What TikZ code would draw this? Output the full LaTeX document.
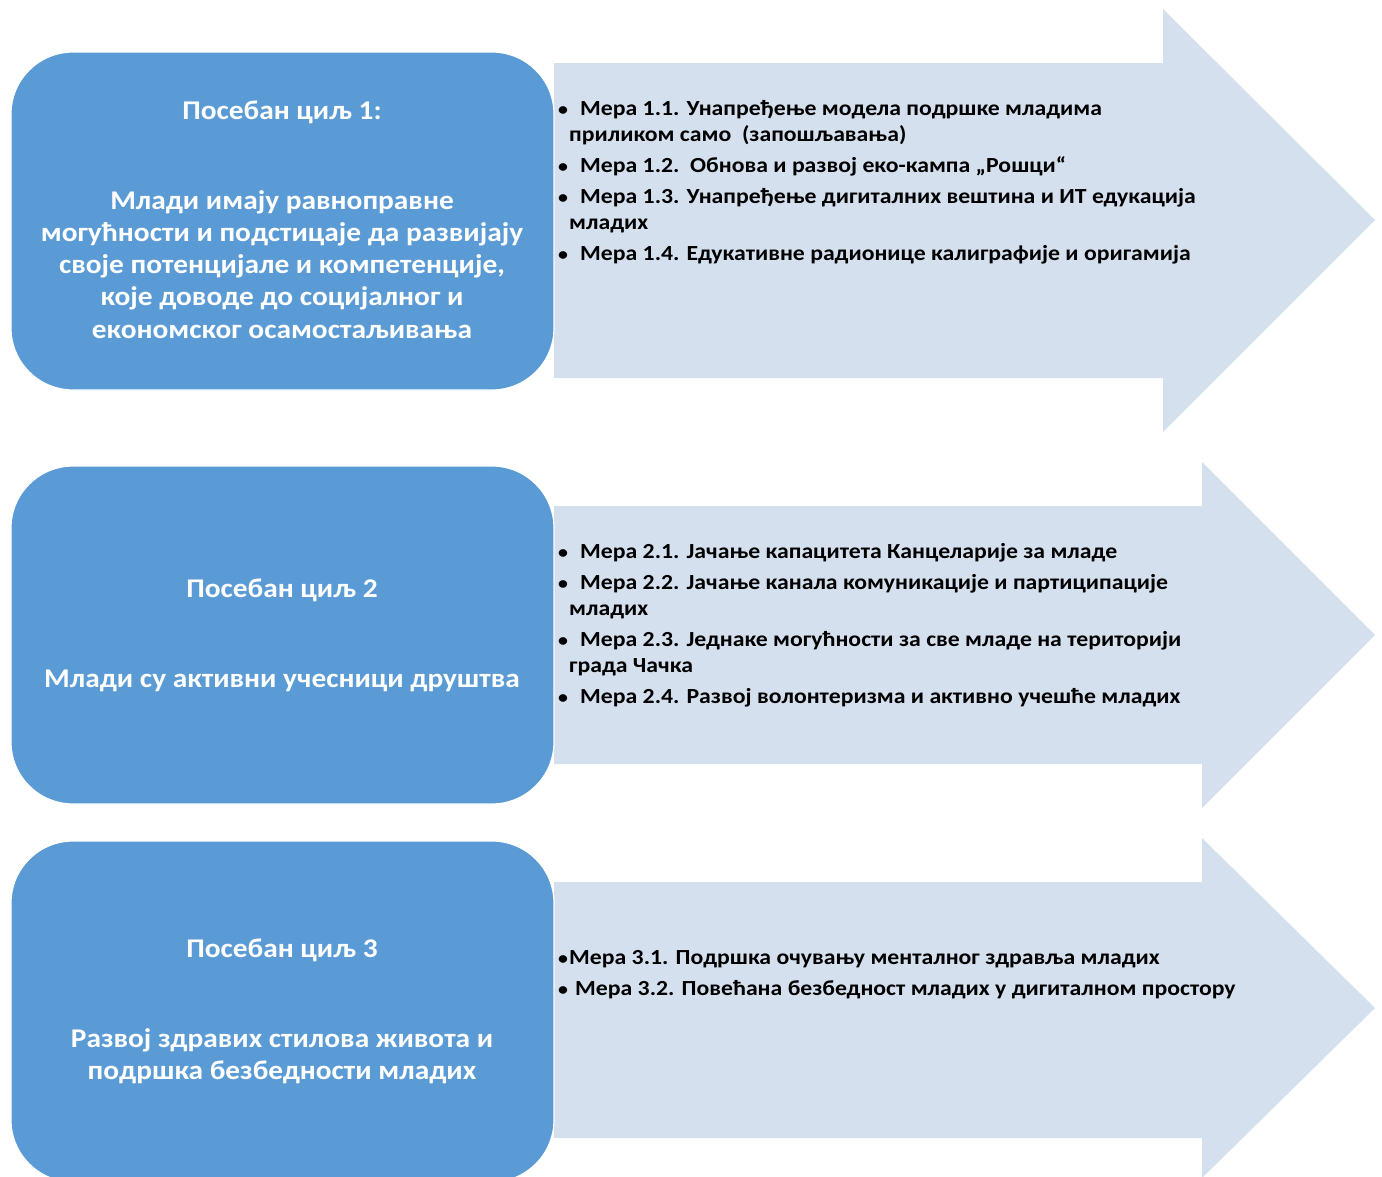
\documentclass[tikz,border=0pt]{standalone}
\usepackage{fontspec}
\setmainfont{Carlito}
\newfontfamily\widefont[FakeStretch=1.088]{Carlito}
\newfontfamily\listfont[FakeStretch=1.104]{Carlito}
\definecolor{boxblue}{HTML}{5B9BD5}
\definecolor{arrowfill}{HTML}{D5E0EF}
\begin{document}
\begin{tikzpicture}[x=1pt,y=-1pt,
  goalbox/.style={fill=boxblue, draw=white, line width=1.2pt, rounded corners=62pt},
  arrowshape/.style={fill=arrowfill, draw=none},
  titletxt/.style={inner sep=0pt, anchor=base, text=white, font=\widefont\fontsize{27}{32}\selectfont\bfseries},
  itemtxt/.style={inner sep=0pt, anchor=base west, text=black, font=\listfont\fontsize{21.5}{26}\selectfont\bfseries}]
\useasboundingbox (0,0) rectangle (1382,1176);
\newcommand{\bul}[1][22pt]{\makebox[#1][l]{\fontsize{18}{20}\selectfont •}}
% arrows
\fill[arrowshape] (554,63) -- (1163,63) -- (1163,9) -- (1375,220) -- (1163,432) -- (1163,378) -- (554,378) -- cycle;
\fill[arrowshape] (554,506) -- (1202,506) -- (1202,462) -- (1375,635) -- (1202,808) -- (1202,764) -- (554,764) -- cycle;
\fill[arrowshape] (554,882) -- (1202,882) -- (1202,838) -- (1375,1008) -- (1202,1178) -- (1202,1138) -- (554,1138) -- cycle;
% boxes
\draw[goalbox] (11,52) rectangle (554,390);
\draw[goalbox] (11,466) rectangle (554,804);
\draw[goalbox] (11,841) rectangle (554,1182);
% box 1 text
\node[titletxt] (g1t) at (282,119) {Посебан циљ 1:};
\node[titletxt] (g1a) at (282,209) {Млади имају равноправне};
\node[titletxt] (g1b) at (282,241) {могућности и подстицаје да развијају};
\node[titletxt] (g1c) at (282,273) {своје потенцијале и компетенције,};
\node[titletxt] (g1d) at (282,305) {које доводе до социјалног и};
\node[titletxt] (g1e) at (282,338) {економског осамостаљивања};
% box 2 text
\node[titletxt] (g2t) at (282,597) {Посебан циљ 2};
\node[titletxt] (g2a) at (282,687) {Млади су активни учесници друштва};
% box 3 text
\node[titletxt] (g3t) at (282,957) {Посебан циљ 3};
\node[titletxt] (g3a) at (282,1047) {Развој здравих стилова живота и};
\node[titletxt] (g3b) at (282,1079) {подршка безбедности младих};
% list 1
\node[itemtxt] (m11) at (558,115) {\bul Мера 1.1. Унапређење модела подршке младима};
\node[itemtxt] (m11b) at (569,141) {приликом само\ \ (запошљавања)};
\node[itemtxt] (m12) at (558,172) {\bul Мера 1.2.\ \ Обнова и развој еко-кампа „Рошци“};
\node[itemtxt] (m13) at (558,203) {\bul Мера 1.3. Унапређење дигиталних вештина и ИТ едукација};
\node[itemtxt] (m13b) at (569,229) {младих};
\node[itemtxt] (m14) at (558,260) {\bul Мера 1.4. Едукативне радионице калиграфије и оригамија};
% list 2
\node[itemtxt] (m21) at (558,558) {\bul Мера 2.1. Јачање капацитета Канцеларије за младе};
\node[itemtxt] (m22) at (558,589) {\bul Мера 2.2. Јачање канала комуникације и партиципације};
\node[itemtxt] (m22b) at (569,615) {младих};
\node[itemtxt] (m23) at (558,646) {\bul Мера 2.3. Једнаке могућности за све младе на територији};
\node[itemtxt] (m23b) at (569,672) {града Чачка};
\node[itemtxt] (m24) at (558,703) {\bul Мера 2.4. Развој волонтеризма и активно учешће младих};
% list 3
\node[itemtxt] (m31) at (558,964) {\bul[11pt]Мера 3.1. Подршка очувању менталног здравља младих};
\node[itemtxt] (m32) at (558,995) {\bul[17pt]Мера 3.2. Повећана безбедност младих у дигиталном простору};
\end{tikzpicture}
\end{document}
